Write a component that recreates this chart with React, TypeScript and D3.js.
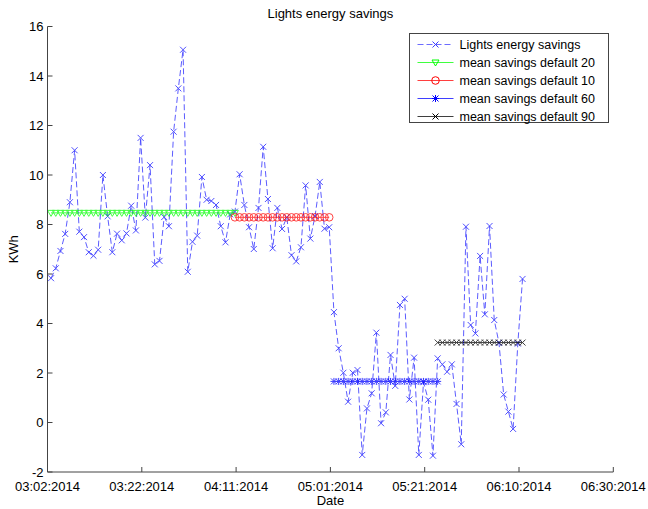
import React from 'react';
import * as d3 from 'd3';

// daily lights energy savings (KWh), first sample 03/02/2014 evening
const startDate = new Date(2014, 2, 2, 18);
const savings = [
  5.83, 6.23, 6.93, 7.62, 8.9, 11.0, 7.71, 7.49, 6.88, 6.74,
  6.98, 10.0, 8.33, 6.88, 7.63, 7.36, 7.64, 8.76, 7.76, 11.5,
  8.28, 10.4, 6.39, 6.53, 8.3, 7.93, 11.75, 13.5, 15.06, 6.09,
  7.3, 7.55, 9.92, 9.0, 8.95, 8.79, 7.93, 7.28, 8.41, 8.52,
  10.03, 8.79, 7.89, 7.01, 8.67, 11.14, 9.03, 7.04, 8.67, 7.82,
  8.29, 6.76, 6.51, 7.08, 9.58, 7.43, 8.34, 9.72, 7.83, 7.89,
  4.46, 3.0, 2.01, 0.84, 2.01, 2.12, -1.31, 0.57, 1.18, 3.63,
  -0.03, 0.41, 2.73, 1.48, 4.75, 5.0, 0.93, 2.62, -1.31, 1.63,
  0.92, -1.34, 2.59, 2.35, 2.05, 2.35, 0.75, -0.88, 7.91, 3.94,
  3.6, 6.73, 4.37, 7.94, 4.14, 3.22, 1.13, 0.44, -0.26, 3.19,
  5.8,
];

// mean levels per default-setting period: [first index, last index, value]
const meanPeriods = [
  { name: 'mean savings default 20', from: 0, to: 39, value: 8.47, color: '#00ff00', marker: 'tri' },
  { name: 'mean savings default 10', from: 39, to: 59, value: 8.29, color: '#ff0000', marker: 'circle' },
  { name: 'mean savings default 60', from: 60, to: 82, value: 1.66, color: '#0000ff', marker: 'star' },
  { name: 'mean savings default 90', from: 82, to: 100, value: 3.23, color: '#000000', marker: 'x' },
];

const xTicks = ['2014-03-02', '2014-03-22', '2014-04-11', '2014-05-01', '2014-05-21', '2014-06-10', '2014-06-30'];
const yTicks = [-2, 0, 2, 4, 6, 8, 10, 12, 14, 16];

const W = 648;
const H = 509;
const m = { left: 47.5, top: 26.5, right: 613.3, bottom: 472 };
const font = 'Liberation Sans, Arial, Helvetica, sans-serif';

const dayMs = 24 * 3600 * 1000;
const dateAt = (i: number) => new Date(startDate.getTime() + i * dayMs);
const parse = (s: string) => {
  const [y, mo, d] = s.split('-').map(Number);
  return new Date(y, mo - 1, d);
};

function Marker({ type, x, y, color }: { type: string; x: number; y: number; color: string }) {
  const s = 3;
  if (type === 'x') {
    return <path d={`M${x - s},${y - s}L${x + s},${y + s}M${x - s},${y + s}L${x + s},${y - s}`} stroke={color} fill="none" />;
  }
  if (type === 'circle') {
    return <circle cx={x} cy={y} r={3.8} stroke={color} fill="none" />;
  }
  if (type === 'tri') {
    return <path d={`M${x - 3.5},${y - 2.5}L${x + 3.5},${y - 2.5}L${x},${y + 3.5}Z`} stroke={color} fill="none" />;
  }
  // asterisk
  return (
    <path
      d={`M${x - s},${y - s}L${x + s},${y + s}M${x - s},${y + s}L${x + s},${y - s}M${x},${y - s - 0.5}L${x},${y + s + 0.5}M${x - s - 0.5},${y}L${x + s + 0.5},${y}`}
      stroke={color}
      fill="none"
    />
  );
}

export default function App() {
  const x = d3.scaleTime().domain([parse(xTicks[0]), parse(xTicks[xTicks.length - 1])]).range([m.left, m.right]);
  const y = d3.scaleLinear().domain([-2, 16]).range([m.bottom, m.top]);
  const fmt = d3.timeFormat('%m:%d:%Y');

  const line = d3
    .line<number>()
    .x((_, i) => x(dateAt(i)))
    .y((d) => y(d));

  const legendItems = [
    { name: 'Lights energy savings', color: '#3b3bff', marker: 'x', dash: true },
    ...meanPeriods.map((p) => ({ name: p.name, color: p.color, marker: p.marker, dash: false })),
  ];

  return (
    <div style={{ position: 'fixed', left: 0, top: 0 }}>
      <svg width={W} height={H} style={{ display: 'block', background: '#fff' }} fontFamily={font}>
        {/* data */}
        <path d={line(savings) || ''} fill="none" stroke="#4040ff" strokeWidth={1} strokeDasharray="6,3" opacity={0.85} />
        {savings.map((v, i) => (
          <Marker key={i} type="x" x={x(dateAt(i))} y={y(v)} color="#5050ff" />
        ))}

        {/* mean levels */}
        {meanPeriods.map((p) => {
          const idx = d3.range(p.from, p.to + 1);
          return (
            <g key={p.name} opacity={0.75}>
              <line x1={x(dateAt(p.from))} x2={x(dateAt(p.to))} y1={y(p.value)} y2={y(p.value)} stroke={p.color} />
              {idx.map((i) => (
                <Marker key={i} type={p.marker} x={x(dateAt(i))} y={y(p.value)} color={p.color} />
              ))}
            </g>
          );
        })}

        {/* axes */}
        <g stroke="#444" fill="none">
          <line x1={m.left} x2={m.left} y1={m.top} y2={m.bottom} />
          <line x1={m.left} x2={m.right} y1={m.bottom} y2={m.bottom} />
          {yTicks.map((t) => (
            <line key={t} x1={m.left} x2={m.left + 5} y1={y(t)} y2={y(t)} />
          ))}
          {xTicks.map((t) => (
            <line key={t} x1={x(parse(t))} x2={x(parse(t))} y1={m.bottom} y2={m.bottom - 5} />
          ))}
        </g>
        <g fontSize={13} fill="#000">
          {yTicks.map((t) => (
            <text key={t} x={m.left - 4} y={y(t)} dy="0.35em" textAnchor="end">
              {t}
            </text>
          ))}
          {xTicks.map((t) => (
            <text key={t} x={x(parse(t))} y={m.bottom + 19} textAnchor="middle">
              {fmt(parse(t))}
            </text>
          ))}
          <text x={(m.left + m.right) / 2} y={505} textAnchor="middle">
            Date
          </text>
          <text transform={`translate(18,${(m.top + m.bottom) / 2}) rotate(-90)`} textAnchor="middle">
            KWh
          </text>
          <text x={(m.left + m.right) / 2} y={18} textAnchor="middle">
            Lights energy savings
          </text>
        </g>

        {/* legend */}
        <g transform="translate(409.5,33.5)">
          <rect width={199} height={89} fill="#fff" stroke="#444" />
          {legendItems.map((it, i) => {
            const ly = 11 + i * 18;
            return (
              <g key={it.name}>
                <line x1={8} x2={44} y1={ly} y2={ly} stroke={it.color} strokeDasharray={it.dash ? '6,3' : undefined} opacity={0.75} />
                <Marker type={it.marker} x={26} y={ly} color={it.color} />
                <text x={50} y={ly} dy="0.35em" fontSize={12.5}>
                  {it.name}
                </text>
              </g>
            );
          })}
        </g>
      </svg>
    </div>
  );
}
